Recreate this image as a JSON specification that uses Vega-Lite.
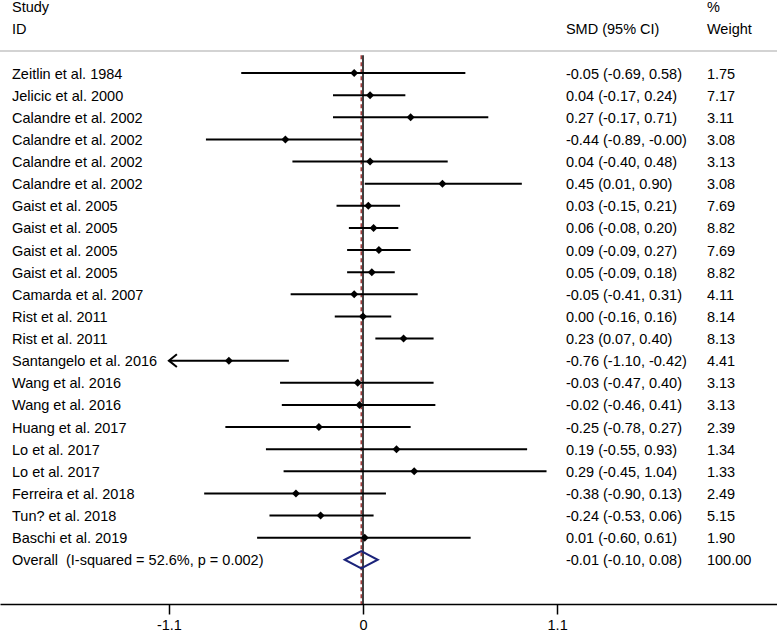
{
  "$schema": "https://vega.github.io/schema/vega-lite/v6.json",
  "width": 777,
  "height": 604,
  "padding": {"left": 0, "top": 0, "right": 0, "bottom": 30},
  "autosize": {"type": "none"},
  "background": "white",
  "config": {
    "view": {"stroke": null},
    "axisX": {"grid": false, "domainColor": "black", "domainWidth": 1.5, "tickColor": "black", "tickWidth": 1.5, "tickSize": 10, "labelFontSize": 14.5, "labelFont": "Liberation Sans", "labelColor": "black", "labelPadding": 4, "title": null},
    "text": {"font": "Liberation Sans", "fontSize": 14.5, "color": "black", "baseline": "middle", "align": "left", "dy": 1.5}
  },
  "datasets": {
    "rows": [
      {"id": -2, "kind": "header", "study": "Study", "ci": "", "weight": "%"},
      {"id": -1, "kind": "header", "study": "ID", "ci": "SMD (95% CI)", "weight": "Weight"},
      {"id": 1, "kind": "study", "study": "Zeitlin et al. 1984", "smd": -0.05, "lo": -0.69, "hi": 0.58, "ci": "-0.05 (-0.69, 0.58)", "weight": "1.75"},
      {"id": 2, "kind": "study", "study": "Jelicic et al. 2000", "smd": 0.04, "lo": -0.17, "hi": 0.24, "ci": "0.04 (-0.17, 0.24)", "weight": "7.17"},
      {"id": 3, "kind": "study", "study": "Calandre et al. 2002", "smd": 0.27, "lo": -0.17, "hi": 0.71, "ci": "0.27 (-0.17, 0.71)", "weight": "3.11"},
      {"id": 4, "kind": "study", "study": "Calandre et al. 2002", "smd": -0.44, "lo": -0.89, "hi": -0.0, "ci": "-0.44 (-0.89, -0.00)", "weight": "3.08"},
      {"id": 5, "kind": "study", "study": "Calandre et al. 2002", "smd": 0.04, "lo": -0.40, "hi": 0.48, "ci": "0.04 (-0.40, 0.48)", "weight": "3.13"},
      {"id": 6, "kind": "study", "study": "Calandre et al. 2002", "smd": 0.45, "lo": 0.01, "hi": 0.90, "ci": "0.45 (0.01, 0.90)", "weight": "3.08"},
      {"id": 7, "kind": "study", "study": "Gaist et al. 2005", "smd": 0.03, "lo": -0.15, "hi": 0.21, "ci": "0.03 (-0.15, 0.21)", "weight": "7.69"},
      {"id": 8, "kind": "study", "study": "Gaist et al. 2005", "smd": 0.06, "lo": -0.08, "hi": 0.20, "ci": "0.06 (-0.08, 0.20)", "weight": "8.82"},
      {"id": 9, "kind": "study", "study": "Gaist et al. 2005", "smd": 0.09, "lo": -0.09, "hi": 0.27, "ci": "0.09 (-0.09, 0.27)", "weight": "7.69"},
      {"id": 10, "kind": "study", "study": "Gaist et al. 2005", "smd": 0.05, "lo": -0.09, "hi": 0.18, "ci": "0.05 (-0.09, 0.18)", "weight": "8.82"},
      {"id": 11, "kind": "study", "study": "Camarda et al. 2007", "smd": -0.05, "lo": -0.41, "hi": 0.31, "ci": "-0.05 (-0.41, 0.31)", "weight": "4.11"},
      {"id": 12, "kind": "study", "study": "Rist et al. 2011", "smd": 0.00, "lo": -0.16, "hi": 0.16, "ci": "0.00 (-0.16, 0.16)", "weight": "8.14"},
      {"id": 13, "kind": "study", "study": "Rist et al. 2011", "smd": 0.23, "lo": 0.07, "hi": 0.40, "ci": "0.23 (0.07, 0.40)", "weight": "8.13"},
      {"id": 14, "kind": "study", "study": "Santangelo et al. 2016", "smd": -0.76, "lo": -1.10, "hi": -0.42, "ci": "-0.76 (-1.10, -0.42)", "weight": "4.41"},
      {"id": 15, "kind": "study", "study": "Wang et al. 2016", "smd": -0.03, "lo": -0.47, "hi": 0.40, "ci": "-0.03 (-0.47, 0.40)", "weight": "3.13"},
      {"id": 16, "kind": "study", "study": "Wang et al. 2016", "smd": -0.02, "lo": -0.46, "hi": 0.41, "ci": "-0.02 (-0.46, 0.41)", "weight": "3.13"},
      {"id": 17, "kind": "study", "study": "Huang et al. 2017", "smd": -0.25, "lo": -0.78, "hi": 0.27, "ci": "-0.25 (-0.78, 0.27)", "weight": "2.39"},
      {"id": 18, "kind": "study", "study": "Lo et al. 2017", "smd": 0.19, "lo": -0.55, "hi": 0.93, "ci": "0.19 (-0.55, 0.93)", "weight": "1.34"},
      {"id": 19, "kind": "study", "study": "Lo et al. 2017", "smd": 0.29, "lo": -0.45, "hi": 1.04, "ci": "0.29 (-0.45, 1.04)", "weight": "1.33"},
      {"id": 20, "kind": "study", "study": "Ferreira et al. 2018", "smd": -0.38, "lo": -0.90, "hi": 0.13, "ci": "-0.38 (-0.90, 0.13)", "weight": "2.49"},
      {"id": 21, "kind": "study", "study": "Tun? et al. 2018", "smd": -0.24, "lo": -0.53, "hi": 0.06, "ci": "-0.24 (-0.53, 0.06)", "weight": "5.15"},
      {"id": 22, "kind": "study", "study": "Baschi et al. 2019", "smd": 0.01, "lo": -0.60, "hi": 0.61, "ci": "0.01 (-0.60, 0.61)", "weight": "1.90"},
      {"id": 23, "kind": "overall", "study": "Overall\u00a0 (I-squared = 52.6%, p = 0.002)", "smd": -0.01, "lo": -0.10, "hi": 0.08, "ci": "-0.01 (-0.10, 0.08)", "weight": "100.00"}
    ]
  },
  "data": {"name": "rows"},
  "layer": [
    {
      "mark": {"type": "rule", "color": "#c4c4c4", "strokeWidth": 1.5},
      "transform": [{"filter": "datum.id == 1"}],
      "encoding": {
        "y": {"datum": 0, "type": "quantitative", "scale": {"domain": [-2.3, 25], "reverse": true, "nice": false, "zero": false}, "axis": null}
      }
    },
    {
      "mark": {"type": "rule", "color": "black", "strokeWidth": 1.5},
      "transform": [{"filter": "datum.id == 1"}],
      "encoding": {
        "x": {"datum": 0, "type": "quantitative", "scale": {"domain": [-2.057, 2.346], "nice": false, "zero": false}, "axis": {"values": [-1.1, 0, 1.1], "labelExpr": "datum.value == 0 ? '0' : replace(format(datum.value, '.1f'), '\u2212', '-')"}, "title": null},
        "y": {"datum": 0.2, "type": "quantitative", "axis": null},
        "y2": {"datum": 25}
      }
    },
    {
      "mark": {"type": "rule", "color": "#a33b3b", "strokeWidth": 1.5, "strokeDash": [4, 3]},
      "transform": [{"filter": "datum.kind == 'overall'"}],
      "encoding": {
        "x": {"field": "smd", "type": "quantitative", "title": null},
        "y": {"datum": 0.2, "type": "quantitative", "axis": null},
        "y2": {"datum": 25}
      }
    },
    {
      "mark": {"type": "rule", "color": "black", "strokeWidth": 2},
      "transform": [{"filter": "datum.kind == 'study'"}],
      "encoding": {
        "x": {"field": "lo", "type": "quantitative", "title": null},
        "x2": {"field": "hi"},
        "y": {"field": "id", "type": "quantitative", "axis": null}
      }
    },
    {
      "mark": {"type": "point", "shape": "diamond", "filled": true, "color": "black", "size": 64, "opacity": 1},
      "transform": [{"filter": "datum.kind == 'study'"}],
      "encoding": {
        "x": {"field": "smd", "type": "quantitative", "title": null},
        "y": {"field": "id", "type": "quantitative", "axis": null}
      }
    },
    {
      "mark": {"type": "point", "shape": "M1,-0.8L0,0L1,0.8", "filled": false, "stroke": "black", "strokeWidth": 2, "size": 256, "opacity": 1},
      "transform": [{"filter": "datum.kind == 'study' && datum.lo <= -1.1"}],
      "encoding": {
        "x": {"field": "lo", "type": "quantitative", "title": null},
        "y": {"field": "id", "type": "quantitative", "axis": null}
      }
    },
    {
      "mark": {"type": "point", "shape": "M-1,0L0,-0.52L1,0L0,0.52Z", "filled": false, "stroke": "#1b237a", "strokeWidth": 2, "size": 1089, "opacity": 1},
      "transform": [{"filter": "datum.kind == 'overall'"}],
      "encoding": {
        "x": {"field": "smd", "type": "quantitative", "title": null},
        "y": {"field": "id", "type": "quantitative", "axis": null}
      }
    },
    {
      "mark": {"type": "text"},
      "encoding": {
        "x": {"datum": -1.989, "type": "quantitative", "title": null},
        "y": {"field": "id", "type": "quantitative", "axis": null},
        "text": {"field": "study"}
      }
    },
    {
      "mark": {"type": "text"},
      "encoding": {
        "x": {"datum": 1.15, "type": "quantitative", "title": null},
        "y": {"field": "id", "type": "quantitative", "axis": null},
        "text": {"field": "ci"}
      }
    },
    {
      "mark": {"type": "text"},
      "encoding": {
        "x": {"datum": 1.949, "type": "quantitative", "title": null},
        "y": {"field": "id", "type": "quantitative", "axis": null},
        "text": {"field": "weight"}
      }
    }
  ]
}
